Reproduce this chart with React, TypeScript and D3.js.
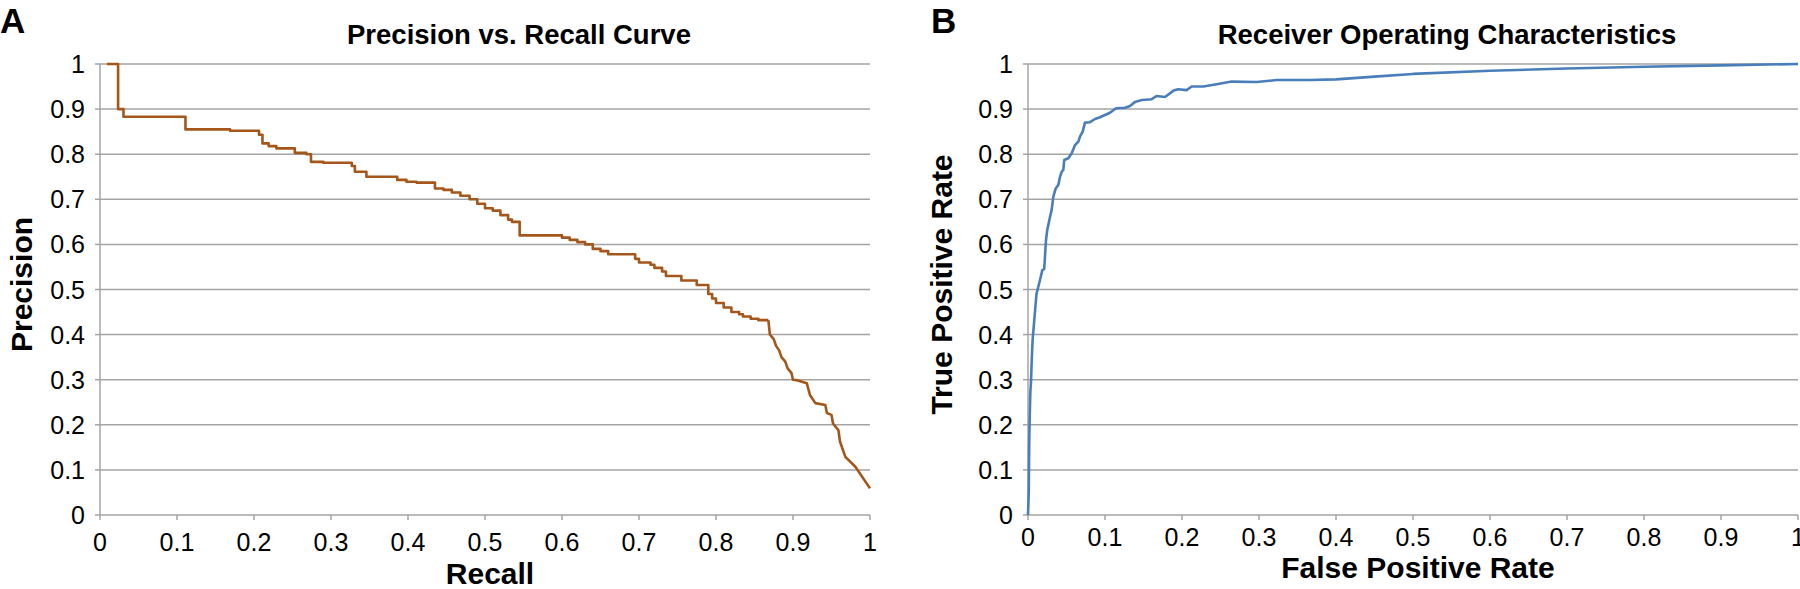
import * as d3 from 'd3'

// ticks shared by both panels
const tickValues = [0, 0.1, 0.2, 0.3, 0.4, 0.5, 0.6, 0.7, 0.8, 0.9, 1]
const tickLabels = ['0', '0.1', '0.2', '0.3', '0.4', '0.5', '0.6', '0.7', '0.8', '0.9', '1']

// precision/recall: stepped section (level starts at recall, holds precision)
const prStepRecall = [
  0.009, 0.0215, 0.0235, 0.0305, 0.111, 0.169, 0.2065, 0.211, 0.219, 0.229, 0.253, 0.268,
  0.274, 0.29, 0.327, 0.331, 0.346, 0.386, 0.398, 0.411, 0.435, 0.446, 0.457, 0.468, 0.48,
  0.49, 0.5, 0.51, 0.52, 0.53, 0.535, 0.545, 0.6, 0.61, 0.62, 0.63, 0.64, 0.65, 0.66, 0.695,
  0.7, 0.715, 0.72, 0.73, 0.735, 0.755, 0.775, 0.79, 0.795, 0.8, 0.81, 0.82, 0.83, 0.835,
  0.845, 0.855, 0.868,
]
const prStepPrecision = [
  1, 1, 0.9, 0.883, 0.855, 0.852, 0.843, 0.824, 0.818, 0.813, 0.803, 0.8, 0.783, 0.781, 0.774,
  0.761, 0.75, 0.743, 0.739, 0.737, 0.724, 0.721, 0.715, 0.708, 0.7, 0.69, 0.68, 0.675, 0.665,
  0.655, 0.65, 0.62, 0.615, 0.61, 0.605, 0.6, 0.59, 0.585, 0.578, 0.568, 0.56, 0.555, 0.548,
  0.54, 0.53, 0.52, 0.51, 0.49, 0.48, 0.47, 0.46, 0.45, 0.445, 0.44, 0.435, 0.432, 0.432,
]
// precision/recall: jagged tail
const prTailRecall = [
  0.868, 0.87, 0.875, 0.878, 0.882, 0.885, 0.89, 0.893, 0.898, 0.9, 0.905, 0.918, 0.922, 0.929,
  0.942, 0.944, 0.95, 0.952, 0.959, 0.961, 0.968, 0.981, 1,
]
const prTailPrecision = [
  0.432, 0.4, 0.39, 0.375, 0.365, 0.35, 0.34, 0.325, 0.315, 0.3, 0.299, 0.292, 0.266, 0.248,
  0.244, 0.226, 0.222, 0.203, 0.188, 0.163, 0.129, 0.107, 0.059,
]

// ROC curve
const rocFpr = [
  0, 0.001, 0.0015, 0.002, 0.003, 0.004, 0.005, 0.006, 0.011, 0.0156, 0.0186, 0.021, 0.0234,
  0.025, 0.0286, 0.0307, 0.0329, 0.036, 0.0394, 0.0416, 0.0437, 0.0459, 0.047, 0.0524, 0.0567,
  0.061, 0.0654, 0.0675, 0.071, 0.074, 0.0805, 0.087, 0.0935, 0.1, 0.1065, 0.1143, 0.126,
  0.1325, 0.139, 0.1477, 0.1606, 0.167, 0.178, 0.189, 0.195, 0.206, 0.2126, 0.2277, 0.245,
  0.2645, 0.297, 0.323, 0.366, 0.4, 0.45, 0.5, 0.6, 0.7, 0.8, 0.9, 1,
]
const rocTpr = [
  0, 0.05, 0.15, 0.2, 0.27, 0.3, 0.35, 0.388, 0.49, 0.521, 0.543, 0.545, 0.61, 0.632, 0.661,
  0.676, 0.706, 0.724, 0.732, 0.75, 0.761, 0.765, 0.787, 0.791, 0.802, 0.82, 0.828, 0.839,
  0.85, 0.87, 0.871, 0.878, 0.882, 0.887, 0.892, 0.902, 0.903, 0.907, 0.916, 0.92, 0.922,
  0.929, 0.927, 0.941, 0.944, 0.942, 0.95, 0.95, 0.955, 0.961, 0.96, 0.9645, 0.9645, 0.966,
  0.972, 0.978, 0.985, 0.99, 0.994, 0.997, 1,
]

const FONT = '"Liberation Sans", Arial, Helvetica, sans-serif'
const GRID = '#a4a4a4'
const TOP = 64
const BOTTOM = 515

type Series = { xs: number[]; ys: number[]; curve: d3.CurveFactory }

function Panel({
  left,
  right,
  letter,
  letterX,
  title,
  xLabel,
  yLabel,
  yLabelX,
  xTickY,
  xLabelY,
  color,
  series,
}: {
  left: number
  right: number
  letter: string
  letterX: number
  title: string
  xLabel: string
  yLabel: string
  yLabelX: number
  xTickY: number
  xLabelY: number
  color: string
  series: Series[]
}) {
  const x = d3.scaleLinear().domain([0, 1]).range([left, right])
  const y = d3.scaleLinear().domain([0, 1]).range([BOTTOM, TOP])
  const mid = (left + right) / 2
  const midY = (TOP + BOTTOM) / 2
  return (
    <g fontFamily={FONT}>
      <text x={letterX} y={33} fontSize={35} fontWeight="bold">
        {letter}
      </text>
      <text x={mid + 34} y={44} fontSize={27.5} fontWeight="bold" textAnchor="middle">
        {title}
      </text>
      {/* grid */}
      {tickValues.map(t => (
        <line key={'g' + t} x1={left} x2={right} y1={y(t)} y2={y(t)} stroke={GRID} strokeWidth={1.5} />
      ))}
      <line x1={left} x2={left} y1={TOP} y2={BOTTOM} stroke={GRID} strokeWidth={1.5} />
      {/* y ticks */}
      {tickValues.map((t, i) => (
        <g key={'y' + t}>
          <line x1={left - 5} x2={left} y1={y(t)} y2={y(t)} stroke={GRID} strokeWidth={1.5} />
          <text x={left - 15} y={y(t)} dy="0.36em" fontSize={25} textAnchor="end">
            {tickLabels[i]}
          </text>
        </g>
      ))}
      {/* x ticks */}
      {tickValues.map((t, i) => (
        <g key={'x' + t}>
          <line x1={x(t)} x2={x(t)} y1={BOTTOM} y2={BOTTOM + 5} stroke={GRID} strokeWidth={1.5} />
          <text x={x(t)} y={xTickY} fontSize={25} textAnchor="middle">
            {tickLabels[i]}
          </text>
        </g>
      ))}
      <text x={mid + 5} y={xLabelY} fontSize={30} fontWeight="bold" textAnchor="middle">
        {xLabel}
      </text>
      <text
        transform={`translate(${yLabelX},${midY - 5}) rotate(-90)`}
        fontSize={30}
        fontWeight="bold"
        textAnchor="middle"
      >
        {yLabel}
      </text>
      {series.map((s, k) => {
        const line = d3
          .line<number>()
          .x(i => x(s.xs[i]))
          .y(i => y(s.ys[i]))
          .curve(s.curve)
        return (
          <path
            key={k}
            d={line(d3.range(s.xs.length)) ?? ''}
            fill="none"
            stroke={color}
            strokeWidth={2.6}
            strokeLinejoin="round"
          />
        )
      })}
    </g>
  )
}

export default function App() {
  return (
    <div style={{ position: 'absolute', left: 0, top: 0 }}>
      <svg width={1800} height={589} style={{ display: 'block', background: '#fff' }}>
        <Panel
          left={100}
          right={870}
          letter="A"
          letterX={0}
          title="Precision vs. Recall Curve"
          xLabel="Recall"
          yLabel="Precision"
          yLabelX={32}
          xTickY={551}
          xLabelY={584}
          color="#a5561a"
          series={[
            { xs: prStepRecall, ys: prStepPrecision, curve: d3.curveStepAfter },
            { xs: prTailRecall, ys: prTailPrecision, curve: d3.curveLinear },
          ]}
        />
        <Panel
          left={1028}
          right={1798}
          letter="B"
          letterX={931}
          title="Receiver Operating Characteristics"
          xLabel="False Positive Rate"
          yLabel="True Positive Rate"
          yLabelX={952}
          xTickY={546}
          xLabelY={578}
          color="#4a7ebb"
          series={[{ xs: rocFpr, ys: rocTpr, curve: d3.curveLinear }]}
        />
      </svg>
    </div>
  )
}
